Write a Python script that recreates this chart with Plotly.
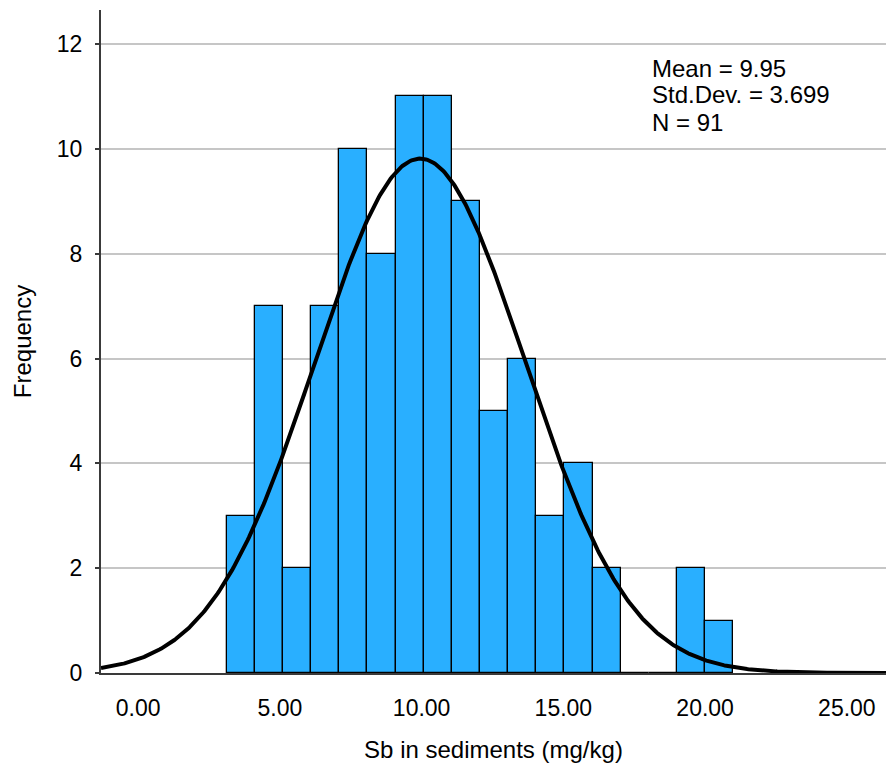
import numpy as np
import plotly.graph_objects as go

# Histogram of Sb concentrations: bin edges (mg/kg) and counts per bin
bin_start = 3.12
bin_width = 0.993
counts = [3, 7, 2, 7, 10, 8, 11, 11, 9, 5, 6, 3, 4, 2, 0, 0, 2, 1]

# Summary statistics shown in the legend box
mean_val = 9.95
sd_val = 3.699
n_val = 91

x_ticks = [0, 5, 10, 15, 20, 25]
x_tick_text = ["0.00", "5.00", "10.00", "15.00", "20.00", "25.00"]
y_ticks = [0, 2, 4, 6, 8, 10, 12]

x_range = [-1.31, 26.38]
y_range = [0, 12.65]

FONT = "Liberation Sans, Arial, sans-serif"

centers = [bin_start + bin_width * (i + 0.5) for i in range(len(counts))]

# Fitted normal curve scaled to counts (N * unit interval * pdf)
xc = np.linspace(x_range[0], x_range[1], 600)
yc = n_val * 1.0 / (sd_val * np.sqrt(2 * np.pi)) * np.exp(-0.5 * ((xc - mean_val) / sd_val) ** 2)

fig = go.Figure()
fig.add_trace(go.Bar(
    x=centers, y=counts, width=bin_width,
    marker=dict(color="#29AFFF", line=dict(color="#000000", width=1.3)),
    hoverinfo="skip",
))
fig.add_trace(go.Scatter(
    x=xc, y=yc, mode="lines",
    line=dict(color="#000000", width=4),
    hoverinfo="skip",
))

# Plot area geometry in pixels
L, R, T, B = 101, 2, 10, 97
W, H = 888, 770
pw, ph = W - L - R, H - T - B

stats_lines = [f"Mean = {mean_val:.2f}", f"Std.Dev. = {sd_val:.3f}", f"N = {n_val}"]
for i, txt in enumerate(stats_lines):
    fig.add_annotation(
        x=(650 - L) / pw, y=1 - ((68 + 27 * i) - T) / ph,
        xref="x domain", yref="y domain",
        text=txt, showarrow=False, xanchor="left", yanchor="middle",
        font=dict(family=FONT, size=24, color="#000000"),
    )

fig.update_layout(
    width=W, height=H,
    margin=dict(l=L, r=R, t=T, b=B),
    paper_bgcolor="white", plot_bgcolor="white",
    showlegend=False, bargap=0,
    font=dict(family=FONT, size=23, color="#000000"),
    xaxis=dict(
        range=x_range, tickvals=x_ticks, ticktext=x_tick_text,
        showgrid=False, zeroline=False,
        showline=True, linecolor="#3a3a3a", linewidth=1.5,
        ticks="", ticklabelstandoff=14,
        tickfont=dict(family=FONT, size=23, color="#000000"),
        title=dict(text="Sb in sediments (mg/kg)", standoff=21,
                   font=dict(family=FONT, size=24, color="#000000")),
    ),
    yaxis=dict(
        range=y_range, tickvals=y_ticks,
        showgrid=True, gridcolor="#c6c6c6", gridwidth=2,
        zeroline=False,
        showline=True, linecolor="#3a3a3a", linewidth=2,
        ticks="outside", ticklen=4, tickwidth=1.5, tickcolor="#3a3a3a",
        ticklabelstandoff=8,
        tickfont=dict(family=FONT, size=23, color="#000000"),
        title=dict(text="Frequency", standoff=18,
                   font=dict(family=FONT, size=24, color="#000000")),
    ),
)

fig.write_html("out.html")
